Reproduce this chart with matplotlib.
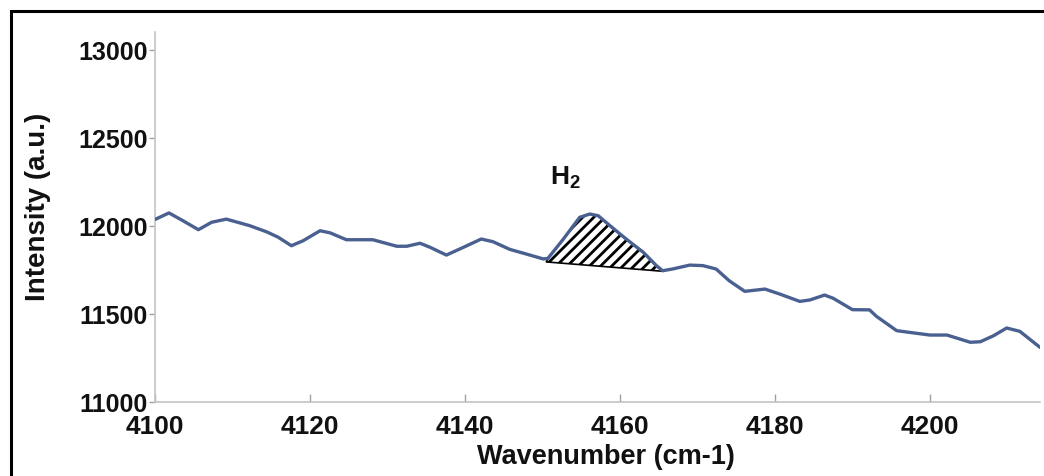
import matplotlib
matplotlib.use("Agg")
import matplotlib.pyplot as plt
import numpy as np
from matplotlib.patches import Rectangle

# ---- data ----
wavenumber = [4100.1, 4101.8, 4103.6, 4105.6, 4107.3, 4109.2, 4112.2, 4114.4, 4115.9,
              4117.6, 4119.1, 4121.3, 4122.6, 4124.7, 4128.1, 4131.2, 4132.5, 4134.2,
              4135.5, 4137.6, 4139.8, 4142.1, 4143.6, 4145.8, 4147.9, 4150.1, 4150.7,
              4152.7, 4154.8, 4156.1, 4157.2, 4158.7, 4160.8, 4163.0, 4164.7, 4165.5,
              4166.8, 4169.0, 4170.7, 4172.4, 4174.1, 4176.1, 4178.7, 4180.6, 4183.2,
              4184.5, 4186.4, 4187.5, 4190.0, 4192.2, 4193.1, 4195.7, 4197.9, 4200.0,
              4202.2, 4205.2, 4206.5, 4208.2, 4209.9, 4211.6, 4214.2]
intensity = [12038, 12073, 12029, 11978, 12020, 12038, 12001, 11966, 11935,
             11887, 11915, 11972, 11960, 11921, 11921, 11884, 11884, 11901,
             11878, 11834, 11878, 11925, 11910, 11866, 11840, 11812, 11815,
             11925, 12048, 12067, 12057, 12001, 11925, 11850, 11774, 11745,
             11755, 11777, 11774, 11755, 11688, 11628, 11641, 11613, 11571,
             11579, 11607, 11589, 11524, 11523, 11486, 11405, 11392, 11380,
             11380, 11339, 11342, 11376, 11420, 11401, 11310]

baseline_wn = [4150.5, 4165.5]
baseline_val = [11795, 11742]

xticks = [4100, 4120, 4140, 4160, 4180, 4200]
yticks = [11000, 11500, 12000, 12500, 13000]

peak_label = r"$\mathbf{H_2}$"
peak_label_pos = (4152.9, 12280)

# ---- styling ----
plt.rcParams['font.family'] = ['Liberation Sans', 'DejaVu Sans']
plt.rcParams['mathtext.fontset'] = 'custom'
plt.rcParams['mathtext.bf'] = 'Liberation Sans:bold'
plt.rcParams['mathtext.rm'] = 'Liberation Sans'
plt.rcParams['hatch.linewidth'] = 2.0

fig = plt.figure(figsize=(10.44, 4.77), dpi=100)
ax = fig.add_axes([155/1044, 1-403/477, 885/1044, 370/477])

line_color = '#4a6090'
x = np.array(wavenumber)
y = np.array(intensity)

mask = (x >= baseline_wn[0]) & (x <= baseline_wn[1])
xf = np.concatenate([[baseline_wn[0]], x[mask], [baseline_wn[1]]])
yf = np.concatenate([[baseline_val[0]], y[mask], [baseline_val[1]]])
yb = np.interp(xf, baseline_wn, baseline_val)
ax.fill_between(xf, yf, yb, facecolor='white', edgecolor='black', hatch='///',
                linewidth=1.2, zorder=2)

ax.plot(x, y, color=line_color, lw=2.4, solid_joinstyle='round',
        solid_capstyle='round', zorder=3)

ax.text(peak_label_pos[0], peak_label_pos[1], peak_label, fontsize=19,
        ha='center', va='center', color='#111111')

ax.set_xlim(4100, 4214.2)
ax.set_ylim(11000, 13100)
ax.set_xticks(xticks)
ax.set_yticks(yticks)

for s in ['top', 'right']:
    ax.spines[s].set_visible(False)
for s in ['left', 'bottom']:
    ax.spines[s].set_color('#c4c4c4')
    ax.spines[s].set_linewidth(1.2)

ax.tick_params(axis='y', direction='out', length=4, width=1, color='#a0a0a0',
               pad=1, labelsize=18, labelcolor='#111111')
ax.tick_params(axis='x', direction='in', length=6, width=1, color='#a0a0a0',
               pad=9, labelsize=19, labelcolor='#111111')
for lab in ax.get_xticklabels() + ax.get_yticklabels():
    lab.set_fontweight('bold')

fig.text(606/1044, 1-457/477, 'Wavenumber (cm-1)', ha='center', va='center',
         fontsize=19.5, fontweight='bold', color='#111111')
fig.text(38/1044, 1-207/477, 'Intensity (a.u.)', ha='center', va='center',
         rotation=90, fontsize=20, fontweight='bold', color='#111111')

fig.patches.append(Rectangle((11/1044, -0.1), 1.2, 1-12/477+0.1,
                             transform=fig.transFigure, fill=False,
                             edgecolor='black', linewidth=2.2, clip_on=False))

fig.savefig('out.png', dpi=100)
